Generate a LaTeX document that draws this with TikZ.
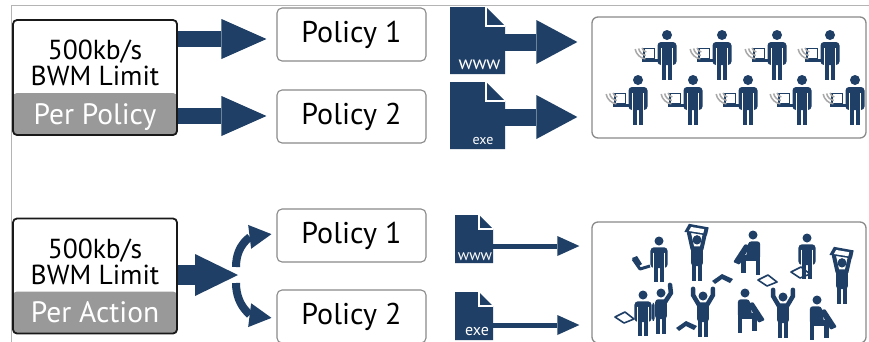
\documentclass[tikz,border=0pt]{standalone}
\usepackage{fontspec}
\setmainfont{PT Sans}
\usetikzlibrary{arrows.meta}

\definecolor{navy}{HTML}{1F3F66}
\definecolor{edgegray}{HTML}{8A8A8A}
\definecolor{bandgray}{HTML}{999999}
\definecolor{rulegray}{HTML}{B4B4B4}
\definecolor{wifigray}{HTML}{A8A8A8}

\def\dogearsize{19pt}

\tikzset{
  limitbox/.style={rectangle, rounded corners=4pt, draw=black!90, line width=1.8pt,
    minimum width=164pt, minimum height=115pt, inner sep=0pt,
    path picture={\fill[bandgray] ([yshift=42pt]path picture bounding box.south west)
      rectangle (path picture bounding box.south east);}},
  limittext/.style={anchor=base, inner sep=0pt, font=\fontsize{27.5}{29}\selectfont},
  bandtext/.style={anchor=base, text=white, inner sep=0pt, font=\fontsize{29.5}{30}\selectfont},
  policybox/.style={rectangle, rounded corners=5pt, draw=edgegray, line width=1.1pt,
    fill=white, minimum width=149pt, minimum height=53pt, inner sep=0pt,
    font=\fontsize{30}{32}\selectfont},
  crowdbox/.style={rectangle, rounded corners=6pt, draw=edgegray, line width=1.3pt,
    minimum width=274pt, minimum height=121pt, inner sep=0pt},
  dogear/.code={\def\dogearsize{#1}},
  docicon/.style={rectangle, inner sep=0pt, path picture={
      \fill[navy] (path picture bounding box.south west)
        -- (path picture bounding box.north west)
        -- ([xshift=-\dogearsize]path picture bounding box.north east)
        -- ([yshift=-\dogearsize]path picture bounding box.north east)
        -- (path picture bounding box.south east) -- cycle;
      \draw[white, line width=1.4pt]
        ([xshift=-\dogearsize]path picture bounding box.north east)
        -- ([xshift=-\dogearsize, yshift=-\dogearsize]path picture bounding box.north east)
        -- ([yshift=-\dogearsize]path picture bounding box.north east);}},
  doclabel/.style={text=white, inner sep=0pt, anchor=base},
  fatarrow/.style={navy, line width=16pt,
    -{Triangle[length=45pt, width=40pt, line width=0pt]}},
  filearrow/.style={navy, line width=17pt,
    -{Triangle[length=41pt, width=44pt, line width=0pt]}},
  midarrow/.style={navy, line width=20pt,
    -{Triangle[length=43pt, width=42pt, line width=0pt]}},
  forkarrow/.style={navy, line width=8pt,
    -{Triangle[length=22pt, width=24pt, line width=0pt]}},
  thinarrow/.style={navy, line width=5pt,
    -{Triangle[length=22pt, width=20pt, line width=0pt]}},
  % pictograms, drawn with the head centre as origin
  stander/.pic={
    \fill (0,0) circle (5pt);
    \fill[rounded corners=3.5pt] (-9.5,7) rectangle (9.5,30);
    \fill (-5.2,28) rectangle (-0.7,45);
    \fill (0.7,28) rectangle (5.2,45);
    \draw[white, line width=0.9pt] (-5.9,13) -- (-5.9,31) (5.9,13) -- (5.9,31);
  },
  netuser/.pic={
    \pic {stander};
    \draw[line width=1.4pt] (-23,13.5) rectangle (-12.5,23.5);
    \fill (-25.5,23.5) rectangle (-9.5,27);
    \foreach \r in {5,8.5,12}
      \draw[wifigray, line width=1.5pt] (-20,12) ++(190:\r pt)
        arc[start angle=190, end angle=262, radius=\r pt];
  },
  armsup/.pic={
    \fill (0,0) circle (5pt);
    \fill[rounded corners=3pt] (-6.5,7) rectangle (6.5,29);
    \draw[line width=4.5pt, line cap=round] (-4.5,10) -- (-11,-1) -- (-11,-8)
      (4.5,10) -- (11,-1) -- (11,-8);
    \fill (-5.2,27) rectangle (-0.7,45);
    \fill (0.7,27) rectangle (5.2,45);
  },
  onearm/.pic={
    \fill (0,0) circle (5pt);
    \fill[rounded corners=3pt] (-6.5,7) rectangle (6.5,29);
    \fill[rounded corners=2pt] (-9.8,11) rectangle (-7.2,31);
    \draw[line width=4.5pt, line cap=round] (4.5,10) -- (11,0) -- (10,-9);
    \fill (-5.2,27) rectangle (-0.7,45);
    \fill (0.7,27) rectangle (5.2,45);
  },
  overhead/.pic={
    \fill (0,0) circle (5pt);
    \fill[rounded corners=3pt] (-6.5,7) rectangle (6.5,29);
    \draw[line width=4pt, line cap=round] (-5,10) -- (-9,-8) (5,10) -- (9,-8);
    \fill (-14,-9) -- (-9,-18) -- (13,-14) -- (11,-5) -- cycle;
    \fill[white] (-9,-10) -- (-6.5,-14.5) -- (8,-12) -- (7,-7.5) -- cycle;
    \fill (0,-1) circle (4.3pt);
    \fill (-5.2,27) rectangle (-0.7,45);
    \fill (0.7,27) rectangle (5.2,45);
  },
  sitter/.pic={
    \fill (0,0) circle (5pt);
    \fill[rounded corners=3pt] (-8,7) -- (5,7) -- (8,26) -- (-8,27) -- cycle;
    \fill (-8,24) rectangle (-3,44);
    \fill (-3,22) rectangle (13,29);
    \fill (8,24) rectangle (13,42);
    \fill[rounded corners=1pt] (3,12) -- (9,10) -- (22,30) -- (15,33) -- cycle;
  },
  darklap/.pic={
    \fill (-10,2) -- (0,-5) -- (11,0) -- (8,4) -- (0,0) -- (-7,5) -- cycle;
  },
  openlap/.pic={
    \draw[line width=1.6pt, line join=round] (-9,-1) -- (1,-6) -- (10,1) -- (0,5) -- cycle;
  },
  sidelap/.pic={
    \draw[line width=3pt, line join=round] (-8,-6) -- (-1,4) -- (9,1);
    \fill (-9,-7) -- (-4,-9) -- (1,-1) -- (-2,1) -- cycle;
  },
}

\begin{document}
\begin{tikzpicture}[x=1pt, y=-1pt]
  \clip (0,0) rectangle (869,341);
  \fill[white] (0,0) rectangle (869,341);

  % outer rules
  \draw[rulegray, line width=0.9pt] (11,345) -- (11,5.5) -- (872,5.5);

  % ---------- upper row: limit per policy ----------
  \node[limitbox] (lim1) at (95,77.5) {};
  \node[limittext] (lim1a) at (95,59.5) {500kb/s};
  \node[limittext] (lim1b) at (95,85.5) {BWM Limit};
  \node[bandtext] (lim1band) at (95,124) {Per Policy};

  \node[policybox] (p1) at (351.5,34.5) {Policy 1};
  \node[policybox] (p2) at (351.5,116.5) {Policy 2};

  \path (0,39) coordinate (ra) (0,116) coordinate (rb);
  \draw[fatarrow, shorten >=10pt] (lim1.east |- ra) -- (p1.west |- ra);
  \draw[fatarrow, shorten >=10pt] (lim1.east |- rb) -- (p2.west |- rb);

  \node[crowdbox] (crowd1) at (729,77.5) {};

  \node[docicon, minimum width=55pt, minimum height=67pt] (f1) at (477.5,40.5) {};
  \node[docicon, minimum width=55pt, minimum height=67pt] (f2) at (477.5,115.5) {};
  \node[doclabel, font=\fontsize{19}{19}\selectfont] (f1lbl) at (479.5,69) {www};
  \node[doclabel, font=\fontsize{14}{14}\selectfont] (f2lbl) at (483,144.5) {exe};

  \path (0,42) coordinate (rc) (0,117) coordinate (rd);
  \draw[filearrow, shorten >=14pt] (f1.east |- rc) -- (crowd1.west |- rc);
  \draw[filearrow, shorten >=14pt] (f2.east |- rd) -- (crowd1.west |- rd);

  % networked users
  \begin{scope}[navy]
    \foreach \px in {667,722,777,830} \pic at (\px,35) {netuser};
    \foreach \px in {638,693,748,802,855} \pic at (\px,80) {netuser};
  \end{scope}

  % ---------- lower row: limit per action ----------
  \node[limitbox] (lim2) at (95,276) {};
  \node[limittext] (lim2a) at (95,258) {500kb/s};
  \node[limittext] (lim2b) at (95,284) {BWM Limit};
  \node[bandtext] (lim2band) at (95,322.5) {Per Action};

  \node[policybox] (q1) at (351.5,235.5) {Policy 1};
  \node[policybox] (q2) at (351.5,316.5) {Policy 2};

  \coordinate (split) at (238,275);
  \draw[forkarrow, shorten >=5pt] ([xshift=-2pt, yshift=8pt]split)
    .. controls +(0,-24) and +(-24,3) .. ([yshift=2pt]q1.west);
  \draw[forkarrow, shorten >=5pt] ([xshift=-2pt, yshift=-8pt]split)
    .. controls +(0,24) and +(-24,-3) .. ([yshift=-2pt]q2.west);
  \draw[midarrow] (lim2.east |- split) -- (split);

  \node[crowdbox] (crowd2) at (729,282.5) {};

  \node[docicon, dogear=14pt, minimum width=38pt, minimum height=48pt] (g1) at (474,239) {};
  \node[docicon, dogear=14pt, minimum width=38pt, minimum height=48pt] (g2) at (474,316) {};
  \node[doclabel, font=\fontsize{15.5}{16}\selectfont] (g1lbl) at (475,260) {www};
  \node[doclabel, font=\fontsize{16}{16}\selectfont] (g2lbl) at (477,335.5) {exe};

  \path (0,246) coordinate (re) (0,325) coordinate (rf);
  \draw[thinarrow, shorten >=12pt] (g1.east |- re) -- (crowd2.west |- re);
  \draw[thinarrow, shorten >=12pt] (g2.east |- rf) -- (crowd2.west |- rf);

  % scattered users
  \begin{scope}[navy]
    \pic[scale=0.9] at (659,241) {stander};
    \pic at (641,265) {sidelap};
    \pic[scale=0.9] at (697,240) {overhead};
    \pic[scale=0.9, xscale=-1] at (753,235) {sitter};
    \pic[scale=0.9] at (807,238) {stander};
    \pic at (800,273) {openlap};
    \pic[scale=0.9] at (842,263) {overhead};
    \pic at (722,279) {darklap};
    \pic at (767,281) {openlap};
    \pic[scale=0.9] at (643,295) {stander};
    \pic[scale=0.9] at (661,293) {onearm};
    \pic at (624,318) {openlap};
    \pic[scale=0.9] at (703,296) {armsup};
    \pic at (686,326) {darklap};
    \pic[scale=0.9] at (745,293) {sitter};
    \pic[scale=0.9] at (783,297) {armsup};
    \pic[scale=0.9] at (817,300) {sitter};
  \end{scope}
\end{tikzpicture}
\end{document}
